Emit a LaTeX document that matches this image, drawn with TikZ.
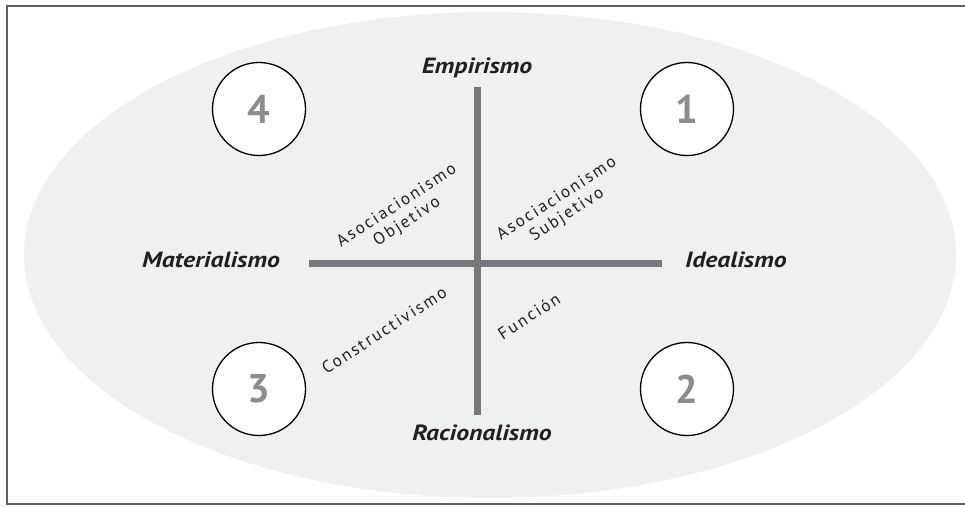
\documentclass[tikz,border=0pt]{standalone}
\usepackage{fontspec}
\setmainfont{PT Sans}
\definecolor{ellfill}{HTML}{EFF0F0}
\definecolor{axisgray}{HTML}{77787B}
\definecolor{numgray}{HTML}{8B8C8E}
\definecolor{framegray}{HTML}{606060}
\definecolor{txt}{HTML}{231F20}
\tikzset{
  axislabel/.style={font=\fontsize{22}{26}\selectfont\bfseries\itshape\addfontfeature{FakeStretch=1.17}, text=txt, inner sep=0pt},
  diag/.style={font=\fontsize{17}{19}\selectfont\addfontfeature{LetterSpace=12}, text=txt, rotate=33, align=center, inner sep=0pt},
  numcircle/.style={circle, draw=black, line width=1.3pt, fill=white, minimum size=93pt, inner sep=0pt,
    font=\fontsize{40}{44}\selectfont\bfseries, text=numgray},
  axisline/.style={draw=axisgray, line width=6.5pt},
}
\begin{document}
\begin{tikzpicture}[x=1pt,y=-1pt]
\useasboundingbox (0,0) rectangle (965,506);
% frame
\draw[framegray, line width=1.5pt] (975,6) -- (7,6) -- (7,504) -- (975,504);
% ellipse
\fill[ellfill] (490,255) ellipse [x radius=466, y radius=243];
% axes
\coordinate (top) at (477.5,87);
\coordinate (bot) at (477.5,415);
\coordinate (lft) at (309,263.5);
\coordinate (rgt) at (662,263.5);
\draw[axisline] (top) -- (bot);
\draw[axisline] (lft) -- (rgt);
% axis labels
\node[axislabel, anchor=base] (emp) at (477,73) {Empirismo};
\node[axislabel, anchor=base] (rac) at (482,440) {Racionalismo};
\node[axislabel, anchor=base east] (mat) at (280,267.5) {Materialismo};
\node[axislabel, anchor=base west] (ide) at (685,267.5) {Idealismo};
% numbered circles
\node[numcircle] (c4) at (259,109) {4};
\node[numcircle] (c1) at (687,109) {1};
\node[numcircle] (c3) at (259,389) {3};
\node[numcircle] (c2) at (687,389) {2};
% diagonal labels
\node[diag] (ao) at (402,214) {Asociacionismo\\Objetivo};
\node[diag] (as) at (562,207) {Asociacionismo\\Subjetivo};
\node[diag] (con) at (384,330) {Constructivismo};
\node[diag] (fun) at (529,316) {Función};
\end{tikzpicture}
\end{document}
